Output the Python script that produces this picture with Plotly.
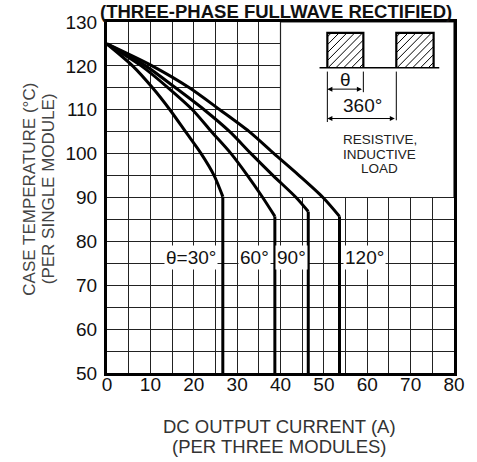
import plotly.graph_objects as go

# ---------------- data ----------------
x_ticks = [0, 10, 20, 30, 40, 50, 60, 70, 80]
y_ticks = [50, 60, 70, 80, 90, 100, 110, 120, 130]

curve_30_x = [0, 5.9, 10.5, 14.5, 18.1, 21.7, 24.7, 26.7]
curve_30_y = [125, 120, 115, 110, 105, 100, 95, 90.2]

curve_60_x = [0, 7.9, 14.1, 19.7, 24.1, 28.6, 32.4, 35.9, 38.7]
curve_60_y = [125, 120, 115, 110, 105, 100, 95, 90, 85.7]

curve_90_x = [0, 8.9, 15.8, 22.4, 28.3, 33.2, 38.3, 43.6, 46.4]
curve_90_y = [125, 120, 115, 110, 105, 100, 95, 90, 86.8]

curve_120_x = [0, 10.4, 19.0, 26.0, 32.8, 38.5, 44.3, 49.8, 53.6]
curve_120_y = [125, 120, 115, 110, 105, 100, 95, 90, 85.7]

curve_labels = ["θ=30°", "60°", "90°", "120°"]
label_x = [19.4, 33.9, 42.5, 59.3]
label_y = [76.4, 76.4, 76.4, 76.4]

X_MIN, X_MAX = 0, 80
Y_MIN, Y_MAX = 50, 130

FONT = "Liberation Sans, Arial, Helvetica, sans-serif"

fig = go.Figure()

curves = [(curve_30_x, curve_30_y), (curve_60_x, curve_60_y),
          (curve_90_x, curve_90_y), (curve_120_x, curve_120_y)]
for cx, cy in curves:
    fig.add_trace(go.Scatter(x=cx, y=cy, mode="lines",
                             line=dict(color="black", width=3, shape="spline", smoothing=0.8),
                             hoverinfo="skip", showlegend=False))
    fig.add_trace(go.Scatter(x=[cx[-1], cx[-1]], y=[cy[-1], Y_MIN], mode="lines",
                             line=dict(color="black", width=3),
                             hoverinfo="skip", showlegend=False))

# ---------- inset: waveform diagram (schematic decoration) ----------
inset_rects = [(50.8, 59.1), (66.7, 75.3)]
rect_bottom, rect_top = 119.6, 127.5
HATCH_STEP = 1.8
for rx0, rx1 in inset_rects:
    w, h = rx1 - rx0, rect_top - rect_bottom
    hx, hy = [], []
    c = -h + HATCH_STEP * 0.5
    while c < w:
        xs = max(0.0, c)
        xe = min(w, c + h)
        hx += [rx0 + xs, rx0 + xe, None]
        hy += [rect_bottom + xs - c, rect_bottom + xe - c, None]
        c += HATCH_STEP
    fig.add_trace(go.Scatter(x=hx, y=hy, mode="lines", line=dict(color="black", width=1),
                             hoverinfo="skip", showlegend=False))
    fig.add_trace(go.Scatter(
        x=[rx0, rx0, rx1, rx1], y=[rect_bottom, rect_top, rect_top, rect_bottom],
        mode="lines", line=dict(color="black", width=2.2), hoverinfo="skip", showlegend=False))

shapes = [
    dict(type="rect", xref="x", yref="y", x0=40, x1=80, y0=90, y1=130,
         fillcolor="white", line=dict(color="#222", width=1.2), layer="between"),
    dict(type="line", xref="x", yref="y", x0=49.0, x1=76.6, y0=rect_bottom, y1=rect_bottom,
         line=dict(color="black", width=1.5)),
    dict(type="line", xref="x", yref="y", x0=50.8, x1=50.8, y0=118.7, y1=107.2,
         line=dict(color="black", width=1)),
    dict(type="line", xref="x", yref="y", x0=59.1, x1=59.1, y0=118.7, y1=114.0,
         line=dict(color="black", width=1)),
    dict(type="line", xref="x", yref="y", x0=66.7, x1=66.7, y0=118.7, y1=107.6,
         line=dict(color="black", width=1)),
]

annotations = []
for (xa, xb, yy) in [(50.8, 59.1, 114.7), (50.8, 66.7, 108.0)]:
    annotations.append(dict(x=xa, y=yy, ax=xb, ay=yy, xref="x", yref="y", axref="x", ayref="y",
                            text="", showarrow=True, arrowhead=2, arrowside="end+start",
                            arrowsize=1, arrowwidth=1, arrowcolor="black", startarrowhead=2,
                            startarrowsize=1))
annotations += [
    dict(x=54.9, y=117.0, xref="x", yref="y", text="θ", showarrow=False,
         xanchor="center", yanchor="middle", font=dict(family=FONT, size=19, color="#111")),
    dict(x=58.9, y=110.9, xref="x", yref="y", text="360°", showarrow=False,
         xanchor="center", yanchor="middle", font=dict(family=FONT, size=19, color="#111")),
    dict(x=62.9, y=103.3, xref="x", yref="y", text="RESISTIVE,", showarrow=False,
         xanchor="center", yanchor="middle", font=dict(family=FONT, size=13.5, color="#222")),
    dict(x=62.9, y=99.9, xref="x", yref="y", text="INDUCTIVE", showarrow=False,
         xanchor="center", yanchor="middle", font=dict(family=FONT, size=13.5, color="#222")),
    dict(x=62.9, y=96.5, xref="x", yref="y", text="LOAD", showarrow=False,
         xanchor="center", yanchor="middle", font=dict(family=FONT, size=13.5, color="#222")),
]

for t, lx, ly in zip(curve_labels, label_x, label_y):
    annotations.append(dict(x=lx, y=ly, xref="x", yref="y", text=t, showarrow=False,
                            xanchor="center", yanchor="middle",
                            bgcolor="white", borderpad=1,
                            font=dict(family=FONT, size=19, color="#111")))

annotations += [
    dict(x=0.486, y=1.0297, xref="paper", yref="paper", text="<b>(THREE-PHASE FULLWAVE RECTIFIED)</b>",
         showarrow=False, xanchor="center", yanchor="middle",
         font=dict(family=FONT, size=18.5, color="#111")),
    dict(x=-0.222, y=0.525, xref="paper", yref="paper", text="CASE TEMPERATURE (°C)",
         textangle=-90, showarrow=False, xanchor="center", yanchor="middle",
         font=dict(family=FONT, size=17, color="#444")),
    dict(x=-0.1685, y=0.525, xref="paper", yref="paper", text="(PER SINGLE MODULE)",
         textangle=-90, showarrow=False, xanchor="center", yanchor="middle",
         font=dict(family=FONT, size=17, color="#444")),
    dict(x=0.497, y=-0.1525, xref="paper", yref="paper", text="DC OUTPUT CURRENT (A)",
         showarrow=False, xanchor="center", yanchor="middle",
         font=dict(family=FONT, size=18.5, color="#333")),
    dict(x=0.497, y=-0.209, xref="paper", yref="paper", text="(PER THREE MODULES)",
         showarrow=False, xanchor="center", yanchor="middle",
         font=dict(family=FONT, size=18.5, color="#333")),
]

axis_common = dict(showline=True, linecolor="black", linewidth=3, mirror=True,
                   showgrid=True, gridcolor="#222", gridwidth=1.2, zeroline=False,
                   ticks="", tickfont=dict(family=FONT, size=19, color="#111"))

fig.update_layout(
    width=477, height=462,
    margin=dict(l=107, r=14, t=19, b=89),
    paper_bgcolor="white", plot_bgcolor="white",
    showlegend=False,
    xaxis=dict(range=[X_MIN, X_MAX], tickvals=x_ticks, ticktext=[str(v) for v in x_ticks],
               minor=dict(dtick=5, tick0=0, showgrid=True, gridcolor="#222", gridwidth=1.2),
               ticklabelstandoff=-8, **axis_common),
    yaxis=dict(range=[Y_MIN, Y_MAX], tickvals=y_ticks, ticktext=[str(v) for v in y_ticks],
               minor=dict(dtick=5, tick0=0, showgrid=True, gridcolor="#222", gridwidth=1.2),
               ticklabelstandoff=3, **axis_common),
    shapes=shapes,
    annotations=annotations,
)

fig.write_html("out.html", config={"displayModeBar": False},
               post_script="document.body.style.margin='0';")
